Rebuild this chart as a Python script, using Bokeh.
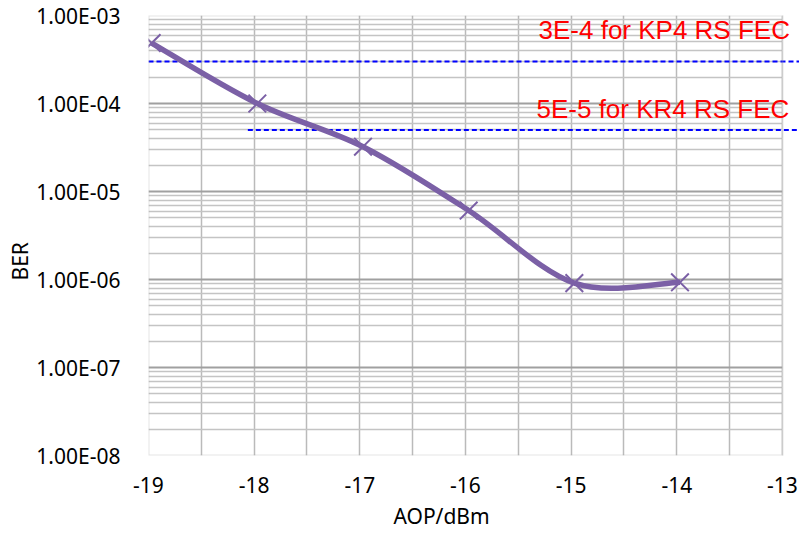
import math
from bokeh.plotting import figure
from bokeh.models import (Range1d, FixedTicker, CustomJSTickFormatter, BoxAnnotation,
                          Label, Title, ColumnDataSource)
from bokeh.embed import file_html
from bokeh.resources import INLINE

# ---------------- data ----------------
aop = [-18.97, -17.97, -16.97, -15.97, -14.97, -13.97]
ber = [4.86e-4, 1.0e-4, 3.23e-5, 6.08e-6, 9.1e-7, 9.3e-7]

kp4_ber = 3e-4
kr4_ber = 5e-5
kp4_text = "3E-4 for KP4 RS FEC"
kr4_text = "5E-5 for KR4 RS FEC"
kp4_start = -19.0
kr4_start = -18.06

x_ticks = [-19, -18, -17, -16, -15, -14, -13]
x_minor = [-18.5, -17.5, -16.5, -15.5, -14.5, -13.5]
y_ticks = [1e-8, 1e-7, 1e-6, 1e-5, 1e-4, 1e-3]
y_minor = [k * 10.0 ** e for e in range(-8, -3) for k in range(2, 10)]

x_label = "AOP/dBm"
y_label = "BER"

# ---------------- style ----------------
FONT = "Noto Sans"
PURPLE = "#7B60A6"
X_END = -12.839

p = figure(width=799, height=533, output_backend="svg", toolbar_location=None,
           y_axis_type="log",
           x_range=Range1d(-19, X_END), y_range=Range1d(1e-8, 1e-3),
           min_border_left=148, min_border_right=0, min_border_top=15,
           min_border_bottom=76)
p.outline_line_color = None
p.background_fill_color = "white"
p.border_fill_color = "white"

# axes
p.xaxis.ticker = FixedTicker(ticks=x_ticks, minor_ticks=x_minor)
p.yaxis.ticker = FixedTicker(ticks=y_ticks, minor_ticks=y_minor)
p.xaxis.formatter = CustomJSTickFormatter(code="return tick.toFixed(0);")
p.yaxis.formatter = CustomJSTickFormatter(code="""
const s = tick.toExponential(2);
const parts = s.split('e');
const sign = parts[1][0];
let d = parts[1].slice(1);
if (d.length < 2) { d = '0' + d; }
return parts[0] + 'E' + sign + d;
""")
for ax in (p.xaxis[0], p.yaxis[0]):
    ax.axis_line_color = None
    ax.major_tick_line_color = None
    ax.minor_tick_line_color = None
    ax.major_label_text_font = FONT
    ax.major_label_text_font_size = "21px"
    ax.major_label_text_color = "black"
p.xaxis.major_label_standoff = 15
p.yaxis.major_label_standoff = 22

# axis titles placed as side titles
p.add_layout(Title(text=x_label, text_font=FONT, text_font_size="21px",
                   text_font_style="normal", text_color="black", align="left",
                   offset=245, standoff=8), "below")
p.add_layout(Title(text=y_label, text_font=FONT, text_font_size="21px",
                   text_font_style="normal", text_color="black", align="left",
                   offset=175, standoff=0), "left")

# grids
p.xgrid.grid_line_color = "#bababa"
p.xgrid.grid_line_width = 1.5
p.xgrid.minor_grid_line_color = "#bababa"
p.xgrid.minor_grid_line_width = 1.5
p.ygrid.grid_line_color = "#a0a0a0"
p.ygrid.grid_line_width = 2
p.ygrid.minor_grid_line_color = "#c4c4c4"
p.ygrid.minor_grid_line_width = 1.5

# mask grid beyond the plot area
p.add_layout(BoxAnnotation(left=x_ticks[-1], fill_color="white", fill_alpha=1.0,
                           line_alpha=0, level="underlay"))

# threshold lines
p.line([kp4_start, X_END], [kp4_ber, kp4_ber], line_color="#0000FF",
       line_width=1.8, line_dash="5 3")
p.line([kr4_start, X_END], [kr4_ber, kr4_ber], line_color="#0000FF",
       line_width=1.8, line_dash="5 3")

# smoothed curve (Catmull-Rom style bezier in x / log10(y) space)
lx = list(aop)
ly = [math.log10(v) for v in ber]
n = len(lx)
seg = dict(x0=[], y0=[], x1=[], y1=[], cx0=[], cy0=[], cx1=[], cy1=[])
for i in range(n - 1):
    im = max(i - 1, 0)
    ip = min(i + 2, n - 1)
    seg["x0"].append(lx[i]); seg["y0"].append(10 ** ly[i])
    seg["x1"].append(lx[i + 1]); seg["y1"].append(10 ** ly[i + 1])
    seg["cx0"].append(lx[i] + (lx[i + 1] - lx[im]) / 6)
    seg["cy0"].append(10 ** (ly[i] + (ly[i + 1] - ly[im]) / 6))
    seg["cx1"].append(lx[i + 1] - (lx[ip] - lx[i]) / 6)
    seg["cy1"].append(10 ** (ly[i + 1] - (ly[ip] - ly[i]) / 6))
p.bezier(x0="x0", y0="y0", x1="x1", y1="y1", cx0="cx0", cy0="cy0", cx1="cx1", cy1="cy1",
         source=ColumnDataSource(seg), line_color=PURPLE, line_width=5.5)
p.scatter(aop, ber, marker="x", size=25, line_color=PURPLE, line_width=2)

# plot-area border
p.add_layout(BoxAnnotation(left=x_ticks[0], right=x_ticks[-1], bottom=y_ticks[0],
                           top=y_ticks[-1], fill_alpha=0, line_color="#a6a6a6",
                           line_width=2))

# threshold texts
p.add_layout(Label(x=-15.309, y=6.76e-4, text=kp4_text, text_color="#FF0000",
                   text_font="Liberation Sans", text_font_size="26px",
                   text_baseline="alphabetic"))
p.add_layout(Label(x=-15.328, y=8.77e-5, text=kr4_text, text_color="#FF0000",
                   text_font="Liberation Sans", text_font_size="26px",
                   text_baseline="alphabetic"))

open("out.html", "w").write(file_html(p, INLINE))
